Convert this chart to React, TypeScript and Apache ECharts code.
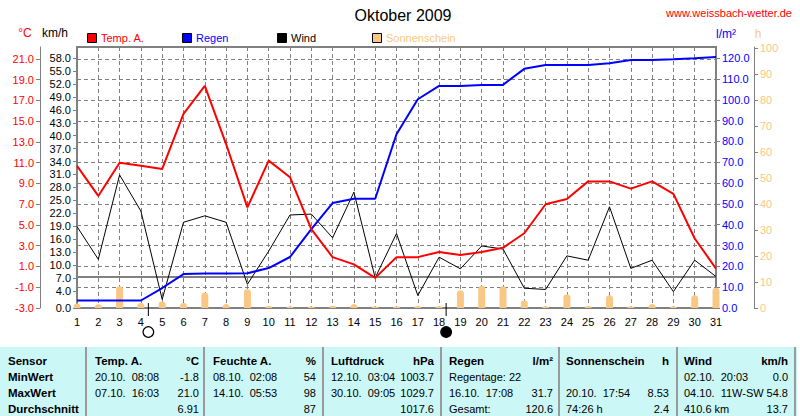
import React, { useEffect, useRef } from "react";
import * as echarts from "echarts";

// ---- daily values, October 2009 ----
const days = [1, 2, 3, 4, 5, 6, 7, 8, 9, 10, 11, 12, 13, 14, 15, 16, 17, 18, 19, 20, 21, 22, 23, 24, 25, 26, 27, 28, 29, 30, 31];
const tempA = [10.7, 7.8, 11.0, 10.7, 10.4, 15.7, 18.4, 12.8, 6.7, 11.2, 9.6, 4.6, 1.9, 1.2, -0.1, 1.9, 1.9, 2.4, 2.1, 2.4, 2.8, 4.2, 7.0, 7.5, 9.2, 9.2, 8.5, 9.2, 8.0, 3.7, 0.8];
const rainSum = [3.6, 3.6, 3.6, 3.6, 9.6, 16.3, 16.6, 16.6, 16.7, 19.2, 24.5, 37.9, 50.4, 52.5, 52.5, 83.5, 100.3, 106.7, 106.7, 107.2, 107.2, 114.9, 116.8, 116.8, 116.8, 117.6, 119.2, 119.2, 119.5, 120.0, 120.6];
const wind = [18.9, 11.3, 30.9, 22.5, 2.0, 19.9, 21.4, 19.9, 5.5, 13.2, 21.6, 21.8, 16.3, 26.9, 7.0, 17.3, 2.9, 11.8, 9.1, 14.4, 13.7, 4.6, 4.3, 12.1, 11.1, 23.5, 9.2, 11.1, 3.8, 11.1, 7.3];
const sunshine = [1.7, 1.4, 8.4, 1.9, 2.6, 1.9, 6.0, 1.5, 7.2, 0.8, 0.6, 0.6, 0.9, 1.5, 0.6, 0.6, 0.7, 0.7, 6.8, 8.53, 8.4, 3.0, 0.6, 5.3, 0.7, 4.9, 0.6, 1.5, 0.6, 4.9, 7.8];
// moon phases: [day position, 0 = full moon, 1 = new moon]
const moonPhases = [[4.35, 0], [18.33, 1]];

// ---- axis tick labels ----
const tempTicks = [-3, -1, 1, 3, 5, 7, 9, 11, 13, 15, 17, 19, 21];
const windTicks = [0, 4, 7, 10, 13, 16, 19, 22, 25, 28, 31, 34, 37, 40, 43, 46, 49, 52, 55, 58];
const rainTicks = [0, 10, 20, 30, 40, 50, 60, 70, 80, 90, 100, 110, 120];
const sunTicks = [0, 10, 20, 30, 40, 50, 60, 70, 80, 90, 100];

// ---- legend ----
const legendNames = ["Temp. A.", "Regen", "Wind", "Sonnenschein"];

// ---- summary table ----
const tableHeader = [
  ["Sensor", ""],
  ["Temp. A.", "°C"],
  ["Feuchte A.", "%"],
  ["Luftdruck", "hPa"],
  ["Regen", "l/m²"],
  ["Sonnenschein", "h"],
  ["Wind", "km/h"],
];
const rowLabels = ["MinWert", "MaxWert", "Durchschnitt"];
const tableRows = [
  [["20.10.  08:08", "-1.8"], ["08.10.  02:08", "54"], ["12.10.  03:04", "1003.7"], ["Regentage: 22", ""], ["", ""], ["02.10.  20:03", "0.0"]],
  [["07.10.  16:03", "21.0"], ["14.10.  05:53", "98"], ["30.10.  09:05", "1029.7"], ["16.10.  17:08", "31.7"], ["20.10.  17:54", "8.53"], ["04.10.  11W-SW", "54.8"]],
  [["", "6.91"], ["", "87"], ["", "1017.6"], ["Gesamt:", "120.6"], ["74:26 h", "2.4"], ["410.6 km", "13.7"]],
];

const RED = "#FF0000";
const BLUE = "#0000FF";
const BLACK = "#000000";
const SUN = "#F9C884";
const GREY = "#808080";
const FONT = "Liberation Sans, Arial, sans-serif";

const colLeft = [8, 95, 213, 331, 449, 566, 684];
const colRight = [0, 199, 316, 434, 553, 669, 788];
const separators = [86, 204, 323, 441, 559, 677, 795];
const rowY = [361, 377, 393, 409];

function buildGraphics() {
  const g: any[] = [];
  // title and site name
  g.push({ type: "text", x: 403, y: 15, style: { text: "Oktober 2009", font: `16px ${FONT}`, fill: BLACK, textAlign: "center", textVerticalAlign: "middle" } });
  g.push({ type: "text", x: 792, y: 13, style: { text: "www.weissbach-wetter.de", font: `11px ${FONT}`, fill: RED, textAlign: "right", textVerticalAlign: "middle" } });
  // unit captions above the axes
  g.push({ type: "text", x: 25, y: 33, style: { text: "°C", font: `12px ${FONT}`, fill: RED, textAlign: "center", textVerticalAlign: "middle" } });
  g.push({ type: "text", x: 55, y: 33, style: { text: "km/h", font: `12px ${FONT}`, fill: BLACK, textAlign: "center", textVerticalAlign: "middle" } });
  g.push({ type: "text", x: 726, y: 34, style: { text: "l/m²", font: `12px ${FONT}`, fill: BLUE, textAlign: "center", textVerticalAlign: "middle" } });
  g.push({ type: "text", x: 758, y: 34, style: { text: "h", font: `12px ${FONT}`, fill: SUN, textAlign: "center", textVerticalAlign: "middle" } });
  // legend
  const legendColors = [RED, BLUE, BLACK, SUN];
  const legendText = [RED, BLUE, BLACK, SUN];
  legendNames.forEach((n, i) => {
    const x = 87 + i * 95;
    g.push({ type: "rect", shape: { x: x + 0.5, y: 33.5, width: 9, height: 9 }, style: { fill: legendColors[i], stroke: BLACK, lineWidth: 1 } });
    g.push({ type: "text", x: x + 14, y: 38, style: { text: n, font: `11px ${FONT}`, fill: legendText[i], textVerticalAlign: "middle" } });
  });
  // summary table
  g.push({ type: "rect", shape: { x: 0, y: 347, width: 797, height: 69 }, style: { fill: "#CCF7F7" } });
  separators.forEach((sx) => {
    g.push({ type: "line", shape: { x1: sx, y1: 347, x2: sx, y2: 416 }, style: { stroke: "#9A9A9A", lineWidth: 2 } });
  });
  tableHeader.forEach((h, c) => {
    g.push({ type: "text", x: colLeft[c], y: rowY[0], style: { text: h[0], font: `bold 11.5px ${FONT}`, fill: BLACK, textVerticalAlign: "middle" } });
    if (h[1]) g.push({ type: "text", x: colRight[c], y: rowY[0], style: { text: h[1], font: `bold 11.5px ${FONT}`, fill: BLACK, textAlign: "right", textVerticalAlign: "middle" } });
  });
  rowLabels.forEach((r, i) => {
    g.push({ type: "text", x: colLeft[0], y: rowY[i + 1], style: { text: r, font: `bold 11.5px ${FONT}`, fill: BLACK, textVerticalAlign: "middle" } });
    tableRows[i].forEach((cell, j) => {
      const c = j + 1;
      if (cell[0]) g.push({ type: "text", x: colLeft[c], y: rowY[i + 1], style: { text: cell[0], font: `11px ${FONT}`, fill: BLACK, textVerticalAlign: "middle" } });
      if (cell[1]) g.push({ type: "text", x: colRight[c], y: rowY[i + 1], style: { text: cell[1], font: `11px ${FONT}`, fill: BLACK, textAlign: "right", textVerticalAlign: "middle" } });
    });
  });
  return g;
}

export default function App() {
  const ref = useRef<HTMLDivElement>(null);

  useEffect(() => {
    if (!ref.current) return;
    const chart = echarts.init(ref.current, undefined, { renderer: "svg" });
    const fmt = (v: number) => v.toFixed(1);
    const dashed = { color: GREY, width: 1, type: [4, 3] as any };

    const option: any = {
      animation: false,
      backgroundColor: "#FFFFFF",
      textStyle: { fontFamily: FONT },
      grid: { left: 77, right: 84, top: 47, bottom: 108, show: true, borderColor: GREY, borderWidth: 2, backgroundColor: "transparent" },
      xAxis: {
        type: "value",
        min: 1,
        max: 31,
        interval: 1,
        axisLine: { show: false },
        axisTick: { show: false },
        axisLabel: { color: BLACK, fontSize: 11, margin: 8, fontFamily: FONT },
        splitLine: { show: true, lineStyle: dashed },
      },
      yAxis: [
        {
          type: "value",
          position: "left",
          offset: 37,
          min: -3,
          max: 22.15,
          axisLine: { show: true, lineStyle: { color: GREY } },
          axisTick: { show: true, length: 4, lineStyle: { color: GREY }, customValues: tempTicks },
          axisLabel: { color: RED, fontSize: 11, margin: 6, formatter: fmt, customValues: tempTicks, fontFamily: FONT },
          splitLine: { show: true, lineStyle: dashed },
        },
        {
          type: "value",
          position: "left",
          offset: 0,
          min: 0,
          max: 60.6,
          axisLine: { show: true, lineStyle: { color: GREY } },
          axisTick: { show: true, length: 4, lineStyle: { color: GREY }, customValues: windTicks },
          axisLabel: { color: BLACK, fontSize: 11, margin: 6, formatter: fmt, customValues: windTicks, fontFamily: FONT },
          splitLine: { show: false },
        },
        {
          type: "value",
          position: "right",
          offset: 0,
          min: 0,
          max: 125.4,
          axisLine: { show: true, lineStyle: { color: GREY } },
          axisTick: { show: true, length: 4, lineStyle: { color: GREY }, customValues: rainTicks },
          axisLabel: { color: BLUE, fontSize: 11, margin: 6, formatter: fmt, customValues: rainTicks, fontFamily: FONT },
          splitLine: { show: false },
        },
        {
          type: "value",
          position: "right",
          offset: 38,
          min: 0,
          max: 100.4,
          axisLine: { show: true, lineStyle: { color: GREY } },
          axisTick: { show: true, length: 4, lineStyle: { color: GREY }, customValues: sunTicks },
          axisLabel: { color: SUN, fontSize: 11, margin: 6, customValues: sunTicks, fontFamily: FONT },
          splitLine: { show: false },
        },
      ],
      series: [
        {
          name: legendNames[3],
          type: "bar",
          yAxisIndex: 3,
          barWidth: 7,
          clip: true,
          itemStyle: { color: SUN, borderRadius: [3.5, 3.5, 0, 0] },
          data: days.map((d, i) => [d, sunshine[i]]),
          z: 1,
        },
        {
          name: legendNames[2],
          type: "line",
          yAxisIndex: 1,
          symbol: "none",
          lineStyle: { color: BLACK, width: 1 },
          data: days.map((d, i) => [d, wind[i]]),
          z: 2,
        },
        {
          name: legendNames[1],
          type: "line",
          yAxisIndex: 2,
          symbol: "none",
          lineStyle: { color: BLUE, width: 2 },
          data: days.map((d, i) => [d, rainSum[i]]),
          z: 3,
        },
        {
          name: legendNames[0],
          type: "line",
          yAxisIndex: 0,
          symbol: "none",
          lineStyle: { color: RED, width: 2 },
          data: days.map((d, i) => [d, tempA[i]]),
          markLine: {
            silent: true,
            symbol: "none",
            label: { show: false },
            lineStyle: { color: GREY, width: 2, type: "solid" },
            data: [{ yAxis: 0 }],
            z: 1,
          },
          z: 4,
        },
        {
          type: "custom",
          yAxisIndex: 2,
          silent: true,
          clip: false,
          data: moonPhases,
          renderItem: (_params: any, api: any) => {
            const p = api.coord([api.value(0), 0]);
            const filled = api.value(1) === 1;
            return {
              type: "group",
              children: [
                { type: "line", shape: { x1: p[0], y1: p[1] - 5, x2: p[0], y2: p[1] + 8 }, style: { stroke: BLACK, lineWidth: 1 } },
                { type: "circle", shape: { cx: p[0], cy: p[1] + 24, r: 5.3 }, style: { fill: filled ? BLACK : "#FFFFFF", stroke: BLACK, lineWidth: 1.2 } },
              ],
            };
          },
          z: 5,
        },
      ],
      graphic: buildGraphics(),
    };

    chart.setOption(option);
    return () => chart.dispose();
  }, []);

  return <div ref={ref} style={{ width: 800, height: 416, position: "absolute", left: 0, top: 0 }} />;
}
